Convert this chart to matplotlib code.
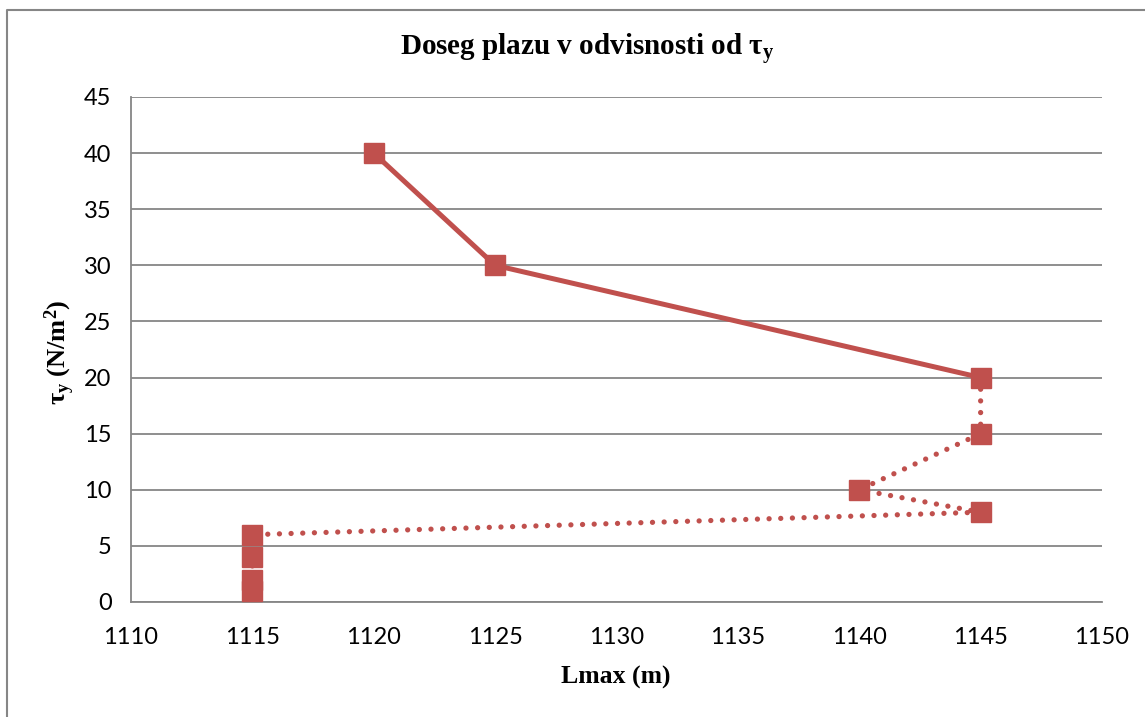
import numpy as np
import matplotlib.pyplot as plt
from matplotlib.lines import Line2D

# Data
lmax = [1120, 1125, 1145, 1145, 1140, 1145, 1115, 1115, 1115, 1115]
tau_y = [40, 30, 20, 15, 10, 8, 6, 4, 2, 1]
n_solid = 3  # first segments drawn solid, rest dotted

xticks = [1110, 1115, 1120, 1125, 1130, 1135, 1140, 1145, 1150]
yticks = [0, 5, 10, 15, 20, 25, 30, 35, 40, 45]

red = '#C0504D'
grid_col = '#868686'

plt.rcParams['mathtext.fontset'] = 'custom'
plt.rcParams['mathtext.rm'] = 'Liberation Serif'
plt.rcParams['mathtext.bf'] = 'Liberation Serif:bold'
plt.rcParams['mathtext.it'] = 'Liberation Serif:italic'

W, H = 1145, 717
fig = plt.figure(figsize=(W / 100, H / 100), dpi=100)
ax = fig.add_axes([131 / W, 1 - 602 / H, (1102 - 131) / W, (602 - 97) / H])

# chart area border (only top and left visible)
fig.add_artist(Line2D([7 / W, 7 / W, 1.0], [0.0, 1 - 10 / H, 1 - 10 / H],
                      transform=fig.transFigure, color=grid_col, lw=1.5))

ax.plot(lmax[:n_solid], tau_y[:n_solid], color=red, lw=3.6, solid_capstyle='round', zorder=3)
ax.plot(lmax[n_solid - 1:], tau_y[n_solid - 1:], color=red, lw=3.8,
        linestyle=(0, (0.01, 2.2)), dash_capstyle='round', zorder=3)
ax.plot(lmax, tau_y, linestyle='none', marker='s', markersize=14,
        color=red, markeredgecolor=red, zorder=4)

ax.set_xlim(1110, 1150)
ax.set_ylim(0, 45)
ax.set_xticks(xticks)
ax.set_yticks(yticks)
ax.grid(axis='y', color=grid_col, lw=1.3)
ax.set_axisbelow(True)
for s in ['top', 'right']:
    ax.spines[s].set_visible(False)
for s in ['left', 'bottom']:
    ax.spines[s].set_color(grid_col)
    ax.spines[s].set_linewidth(1.3)
ax.tick_params(length=0, labelsize=17, pad=14)
ax.tick_params(axis='x', pad=18)
for lab in ax.get_xticklabels() + ax.get_yticklabels():
    lab.set_fontfamily('Lato')

fig.text(587 / W, 1 - 50 / H, 'Doseg plazu v odvisnosti od τ$_\\mathbf{y}$',
         ha='center', va='center', fontsize=21, fontweight='bold',
         family='Liberation Serif')
fig.text(616 / W, 1 - 677 / H, 'Lmax (m)', ha='center', va='center',
         fontsize=18.5, fontweight='bold', family='Liberation Serif')
fig.text(60 / W, 1 - 352 / H, 'τ$_\\mathbf{y}$ (N/m$^\\mathbf{2}$)', ha='center', va='center',
         rotation=90, fontsize=19, fontweight='bold', family='Liberation Serif')

plt.savefig('out.png', dpi=100)
